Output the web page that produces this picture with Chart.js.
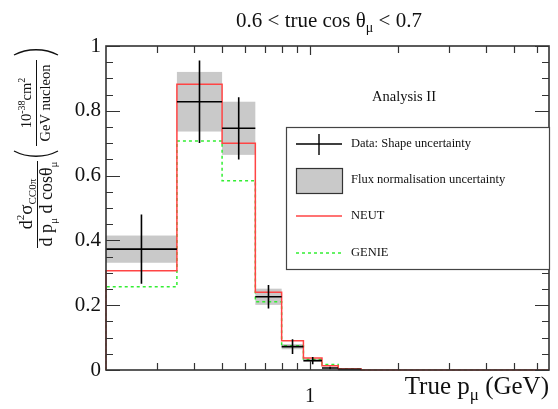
<!DOCTYPE html>
<html>
<head>
<meta charset="utf-8">
<script src="https://cdn.jsdelivr.net/npm/chart.js@4"></script>
<style>
  html, body { margin: 0; padding: 0; background: #ffffff; }
  #wrap { width: 558px; height: 409px; }
</style>
</head>
<body>
<div id="wrap"><canvas id="c" width="558" height="409"></canvas></div>
<script>
// Muon momentum bin edges (GeV); the first bin is shown from the axis minimum
const binEdges = [0.2, 0.35, 0.5, 0.65, 0.8, 0.95, 1.1, 1.25, 1.5, 6.6];

// Measured cross section per bin (1e-38 cm^2 / GeV / nucleon)
const dataValues = [0.373, 0.828, 0.746, 0.226, 0.072, 0.029, 0.006, 0.002];
// Shape uncertainty (half-height of error bar)
const shapeErr = [0.107, 0.127, 0.096, 0.036, 0.023, 0.011, 0.004, 0.002];
// Flux normalisation uncertainty (half-height of grey band)
const fluxErr = [0.042, 0.092, 0.082, 0.025, 0.008, 0.003, 0.001, 0.0003];

// Generator predictions, one value per bin
const neutValues = [0.306, 0.882, 0.700, 0.240, 0.090, 0.037, 0.013, 0.003, 0];
const genieValues = [0.257, 0.707, 0.584, 0.211, 0.075, 0.033, 0.017, 0.003, 0];

// Axis ticks
const yMajorTicks = [0, 0.2, 0.4, 0.6, 0.8, 1];
const yTickLabels = ['0', '0.2', '0.4', '0.6', '0.8', '1'];
const xMinorTicks = [0.3, 0.4, 0.5, 0.6, 0.7, 0.8, 0.9, 2, 3, 4, 5, 6];
const xMajorTicks = [1];
const xTickLabels = ['1'];

const SERIF = '"Liberation Serif", "DejaVu Serif", serif';

// Build a step histogram outline: a point on each left edge, closed at the right end
function histPoints(values) {
  const pts = [{ x: binEdges[0], y: 0 }];
  values.forEach((v, i) => pts.push({ x: binEdges[i], y: v }));
  pts.push({ x: binEdges[binEdges.length - 1], y: 0 });
  return pts;
}

// Text runs with sub/superscripts
function richWidth(ctx, parts) {
  let w = 0;
  parts.forEach(p => { ctx.font = p.size + 'px ' + SERIF; w += ctx.measureText(p.t).width; });
  return w;
}
function drawRich(ctx, parts, x, y, align) {
  const w = richWidth(ctx, parts);
  let cx = align === 'center' ? x - w / 2 : (align === 'right' ? x - w : x);
  ctx.textAlign = 'left';
  ctx.textBaseline = 'alphabetic';
  parts.forEach(p => {
    ctx.font = p.size + 'px ' + SERIF;
    ctx.fillText(p.t, cx, y + (p.dy || 0));
    cx += ctx.measureText(p.t).width;
  });
}

// Thin stretched parenthesis; dir = -1 for "(", +1 for ")"
function paren(ctx, u, v0, v1, dir) {
  const bulge = 7;
  ctx.beginPath();
  ctx.moveTo(u, v0);
  ctx.bezierCurveTo(u + dir * bulge, v0 + (v1 - v0) * 0.3, u + dir * bulge, v0 + (v1 - v0) * 0.7, u, v1);
  ctx.stroke();
}

// Grey flux-normalisation boxes under the curves
const fluxBoxes = {
  id: 'fluxBoxes',
  beforeDatasetsDraw(chart) {
    const { ctx, scales: { x, y } } = chart;
    ctx.save();
    ctx.fillStyle = '#c9c9c9';
    dataValues.forEach((v, i) => {
      const x0 = x.getPixelForValue(binEdges[i]);
      const x1 = x.getPixelForValue(binEdges[i + 1]);
      const y0 = y.getPixelForValue(v + fluxErr[i]);
      const y1 = y.getPixelForValue(v - fluxErr[i]);
      ctx.fillRect(x0, y0, x1 - x0, y1 - y0);
    });
    ctx.restore();
  }
};

// Data crosses, frame, ticks and all text
const decorations = {
  id: 'decorations',
  afterDatasetsDraw(chart) {
    const { ctx, chartArea: a, scales: { x, y } } = chart;
    ctx.save();

    // Data points: horizontal bar across the bin, vertical shape error
    ctx.strokeStyle = '#000000';
    ctx.lineWidth = 1.6;
    dataValues.forEach((v, i) => {
      const lo = binEdges[i], hi = binEdges[i + 1];
      const xc = x.getPixelForValue(Math.sqrt(lo * hi));
      const x0 = x.getPixelForValue(lo), x1 = x.getPixelForValue(hi);
      const yc = y.getPixelForValue(v);
      ctx.beginPath();
      ctx.moveTo(x0, yc); ctx.lineTo(x1, yc);
      ctx.moveTo(xc, y.getPixelForValue(v + shapeErr[i]));
      ctx.lineTo(xc, y.getPixelForValue(Math.max(0, v - shapeErr[i])));
      ctx.stroke();
    });

    // Frame
    ctx.strokeStyle = '#333333';
    ctx.lineWidth = 1.6;
    ctx.strokeRect(a.left, a.top, a.right - a.left, a.bottom - a.top);

    // Y ticks (left and right, inward)
    ctx.lineWidth = 1.2;
    ctx.beginPath();
    for (let k = 0; k <= 20; k++) {
      const v = k * 0.05;
      const py = Math.round(y.getPixelForValue(v)) + 0.5;
      const len = (k % 4 === 0) ? 14 : 7;
      ctx.moveTo(a.left, py); ctx.lineTo(a.left + len, py);
      ctx.moveTo(a.right, py); ctx.lineTo(a.right - len, py);
    }
    // X ticks (bottom and top, inward)
    xMinorTicks.concat(xMajorTicks).forEach(t => {
      const px = Math.round(x.getPixelForValue(t)) + 0.5;
      const len = xMajorTicks.includes(t) ? 9 : 7;
      ctx.moveTo(px, a.bottom); ctx.lineTo(px, a.bottom - len);
      ctx.moveTo(px, a.top); ctx.lineTo(px, a.top + len);
    });
    ctx.stroke();

    ctx.fillStyle = '#111111';
    // Y tick labels
    ctx.font = '21px ' + SERIF;
    ctx.textAlign = 'right';
    ctx.textBaseline = 'middle';
    yMajorTicks.forEach((t, i) => ctx.fillText(yTickLabels[i], 101, y.getPixelForValue(t)));
    // X tick labels
    ctx.textAlign = 'center';
    ctx.font = '20px ' + SERIF;
    xMajorTicks.forEach((t, i) => ctx.fillText(xTickLabels[i], x.getPixelForValue(t), 397));

    // X axis title
    drawRich(ctx, [
      { t: 'True p', size: 25 },
      { t: '\u03bc', size: 17, dy: 6 },
      { t: ' (GeV)', size: 25 }
    ], 549, 394, 'right');

    // Title
    drawRich(ctx, [
      { t: '0.6 < true cos \u03b8', size: 21 },
      { t: '\u03bc', size: 14, dy: 5 },
      { t: ' < 0.7', size: 21 }
    ], 329, 27, 'center');

    // Analysis label
    ctx.font = '14.5px ' + SERIF;
    ctx.textAlign = 'center';
    ctx.textBaseline = 'middle';
    ctx.fillText('Analysis II', 404, 97);

    // Y axis title, rotated
    ctx.save();
    ctx.rotate(-Math.PI / 2);
    drawRich(ctx, [
      { t: 'd', size: 18 },
      { t: '2', size: 11, dy: -8 },
      { t: '\u03c3', size: 19 },
      { t: 'CC0\u03c0', size: 11, dy: 4 }
    ], -204, 32, 'center');
    drawRich(ctx, [
      { t: 'd p', size: 18 },
      { t: '\u03bc', size: 11, dy: 5 },
      { t: ' d cos\u03b8', size: 18 },
      { t: '\u03bc', size: 11, dy: 5 }
    ], -204, 52, 'center');
    ctx.strokeStyle = '#111111';
    ctx.lineWidth = 1;
    ctx.beginPath();
    ctx.moveTo(-248, 37.5); ctx.lineTo(-161, 37.5);
    ctx.moveTo(-146, 36.5); ctx.lineTo(-60, 36.5);
    ctx.stroke();
    drawRich(ctx, [
      { t: '10', size: 14.5 },
      { t: '-38', size: 10, dy: -6 },
      { t: 'cm', size: 14.5 },
      { t: '2', size: 10, dy: -6 }
    ], -103, 31, 'center');
    drawRich(ctx, [{ t: 'GeV nucleon', size: 14.5 }], -103, 50, 'center');
    ctx.lineWidth = 1.3;
    paren(ctx, -151, 14, 58, -1);
    paren(ctx, -55, 14, 58, 1);
    ctx.restore();

    // Legend box
    const L = { left: 286, top: 127, right: 549, bottom: 269 };
    ctx.fillStyle = '#ffffff';
    ctx.fillRect(L.left, L.top, L.right - L.left, L.bottom - L.top);
    ctx.strokeStyle = '#444444';
    ctx.lineWidth = 1.2;
    ctx.strokeRect(L.left + 0.5, L.top + 0.5, L.right - L.left, L.bottom - L.top);

    const sx0 = 296, sx1 = 342, tx = 351;
    const rows = [144, 180, 216, 253];
    // Data entry
    ctx.strokeStyle = '#000000';
    ctx.lineWidth = 1.4;
    ctx.beginPath();
    ctx.moveTo(sx0, rows[0]); ctx.lineTo(sx1, rows[0]);
    ctx.moveTo((sx0 + sx1) / 2, rows[0] - 10); ctx.lineTo((sx0 + sx1) / 2, rows[0] + 11);
    ctx.stroke();
    // Flux box entry
    ctx.fillStyle = '#c9c9c9';
    ctx.fillRect(sx0, rows[1] - 12, sx1 - sx0, 25);
    ctx.strokeStyle = '#333333';
    ctx.lineWidth = 1.2;
    ctx.strokeRect(sx0 + 0.5, rows[1] - 12 + 0.5, sx1 - sx0, 25);
    // NEUT entry
    ctx.strokeStyle = '#ff4444';
    ctx.lineWidth = 1.5;
    ctx.beginPath(); ctx.moveTo(sx0, rows[2]); ctx.lineTo(sx1, rows[2]); ctx.stroke();
    // GENIE entry
    ctx.strokeStyle = '#33ee33';
    ctx.setLineDash([3, 3]);
    ctx.beginPath(); ctx.moveTo(sx0, rows[3]); ctx.lineTo(sx1, rows[3]); ctx.stroke();
    ctx.setLineDash([]);

    ctx.fillStyle = '#111111';
    ctx.font = '12.5px ' + SERIF;
    ctx.textAlign = 'left';
    ctx.textBaseline = 'middle';
    ['Data: Shape uncertainty', 'Flux normalisation uncertainty', 'NEUT', 'GENIE']
      .forEach((s, i) => ctx.fillText(s, tx, rows[i]));

    ctx.restore();
  }
};

new Chart(document.getElementById('c'), {
  type: 'line',
  data: {
    datasets: [
      {
        label: 'NEUT',
        data: histPoints(neutValues),
        stepped: 'before',
        borderColor: '#ff4444',
        borderWidth: 1.5,
        pointRadius: 0,
        fill: false,
        clip: 4
      },
      {
        label: 'GENIE',
        data: histPoints(genieValues),
        stepped: 'before',
        borderColor: '#33ee33',
        borderWidth: 1.5,
        borderDash: [3, 3],
        pointRadius: 0,
        fill: false,
        clip: 4
      }
    ]
  },
  options: {
    responsive: false,
    devicePixelRatio: 1,
    animation: false,
    layout: { padding: { left: 106, right: 9, top: 46, bottom: 39 } },
    plugins: { legend: { display: false }, tooltip: { enabled: false }, title: { display: false } },
    scales: {
      x: { type: 'logarithmic', min: 0.2, max: 6.6, display: false },
      y: { type: 'linear', min: 0, max: 1, display: false }
    }
  },
  plugins: [fluxBoxes, decorations]
});
</script>
</body>
</html>
